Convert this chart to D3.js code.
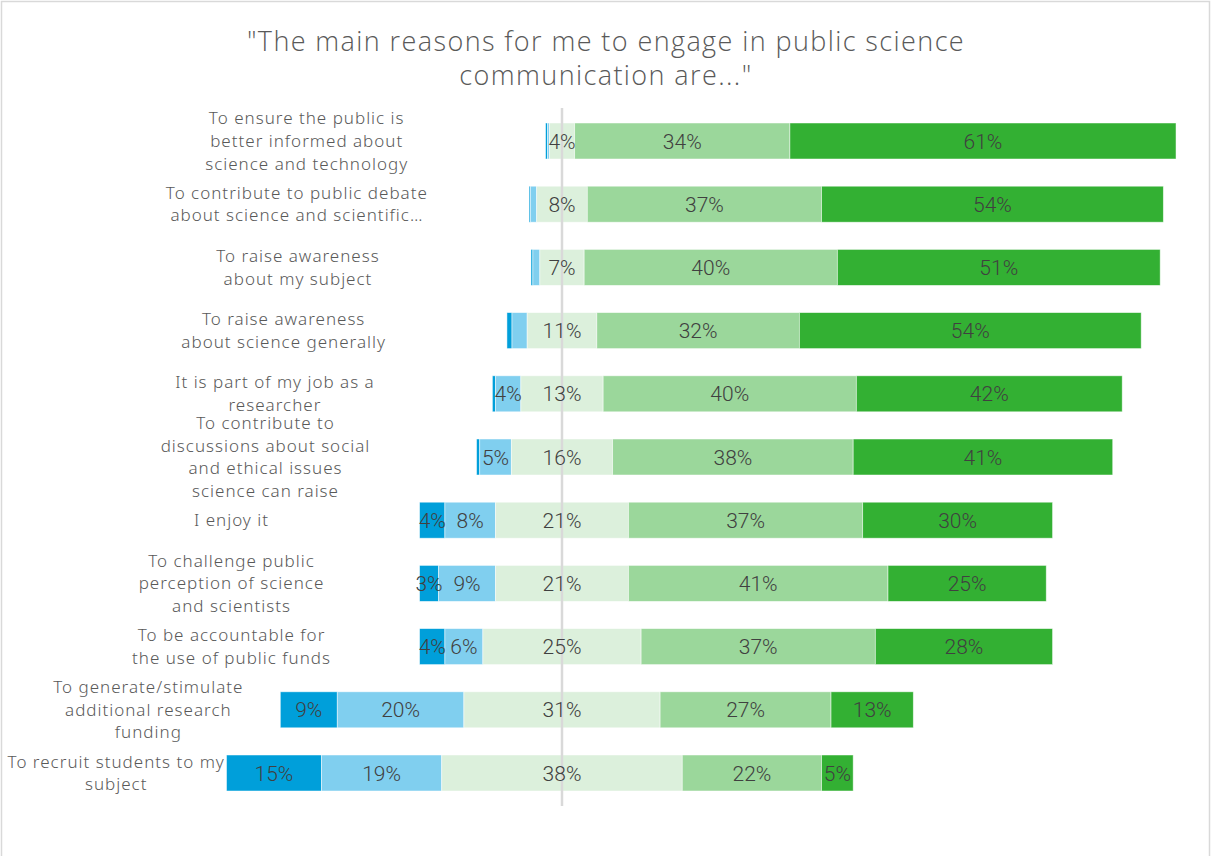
<!DOCTYPE html>
<html>
<head>
<meta charset="utf-8">
<script src="https://cdn.jsdelivr.net/npm/d3@7"></script>
<style>
  html, body { margin: 0; padding: 0; background: #fff; }
  svg { display: block; }
</style>
</head>
<body>
<svg id="chart" width="1212" height="856"></svg>
<script>
// Reasons for engaging in public science communication (share of respondents, %)
const categories = [
  "To ensure the public is\nbetter informed about\nscience and technology",
  "To contribute to public debate\nabout science and scientific…",
  "To raise awareness\nabout my subject",
  "To raise awareness\nabout science generally",
  "It is part of my job as a\nresearcher",
  "To contribute to\ndiscussions about social\nand ethical issues\nscience can raise",
  "I enjoy it",
  "To challenge public\nperception of science\nand scientists",
  "To be accountable for\nthe use of public funds",
  "To generate/stimulate\nadditional research\nfunding",
  "To recruit students to my\nsubject"
];
const stronglyDisagree = [0.3, 0.2, 0.3, 0.8, 0.5, 0.5, 4, 3, 4, 9, 15];
const disagree         = [0.3, 1, 1.1, 2.4, 4, 5, 8, 9, 6, 20, 19];
const neutral          = [4, 8, 7, 11, 13, 16, 21, 21, 25, 31, 38];
const agree            = [34, 37, 40, 32, 40, 38, 37, 41, 37, 27, 22];
const stronglyAgree    = [61, 54, 51, 54, 42, 41, 30, 25, 28, 13, 5];
const titleLines = ["\"The main reasons for me to engage in public science", "communication are...\""];

const seriesColors = ["#009fda", "#80cfef", "#dcf0dc", "#9bd79b", "#33b033"];

const svg = d3.select("#chart");
const W = 1212, H = 856;

// chart frame
svg.append("rect")
  .attr("x", 1.5).attr("y", 1.5)
  .attr("width", W - 4).attr("height", H)
  .attr("fill", "#fff").attr("stroke", "#d9d9d9").attr("stroke-width", 1.5);

// title
svg.append("g").selectAll("text")
  .data(titleLines).join("text")
  .attr("x", 606).attr("y", (d, i) => 51 + i * 34)
  .attr("text-anchor", "middle")
  .attr("font-family", "'Open Sans', sans-serif")
  .attr("font-weight", 300)
  .attr("font-size", 27)
  .attr("letter-spacing", 1.4)
  .attr("fill", "#595959")
  .text(d => d);

const x = d3.scaleLinear().domain([-55, 100]).range([562 - 55 * 6.33, 562 + 100 * 6.33]);
const y = d3.scalePoint().domain(d3.range(categories.length)).range([141, 773]);
const barH = 36;

// build stacked segments, with the neutral share centred on zero
const rows = categories.map((c, i) => {
  const vals = [stronglyDisagree[i], disagree[i], neutral[i], agree[i], stronglyAgree[i]];
  let start = -(vals[0] + vals[1] + vals[2] / 2);
  return vals.map((v, k) => {
    const seg = { row: i, k, v, x0: start, x1: start + v };
    start += v;
    return seg;
  });
});
const segs = rows.flat();

const gBars = svg.append("g");
gBars.selectAll("rect")
  .data(segs).join("rect")
  .attr("x", d => x(d.x0))
  .attr("width", d => x(d.x1) - x(d.x0))
  .attr("y", d => y(d.row) - barH / 2)
  .attr("height", barH)
  .attr("fill", d => seriesColors[d.k])
  .attr("stroke", "#fff")
  .attr("stroke-opacity", 0.6)
  .attr("stroke-width", 0.8);

// zero line
svg.append("line")
  .attr("x1", x(0)).attr("x2", x(0))
  .attr("y1", 108).attr("y2", 806)
  .attr("stroke", "#d9d9d9").attr("stroke-width", 2.5);

// value labels (slivers under 3% stay unlabelled)
svg.append("g").selectAll("text")
  .data(segs.filter(d => d.v >= 3)).join("text")
  .attr("x", d => x((d.x0 + d.x1) / 2))
  .attr("y", d => y(d.row))
  .attr("dy", "0.36em")
  .attr("text-anchor", "middle")
  .attr("font-family", "Roboto, sans-serif")
  .attr("font-weight", 300)
  .attr("font-size", 21)
  .attr("fill", "#404040")
  .text(d => d3.format(".0f")(d.v) + "%");

// category labels, centred a little to the left of each bar's start
const lineH = 22.6;
const gCats = svg.append("g");
categories.forEach((c, i) => {
  const lines = c.split("\n");
  const left = x(rows[i][0].x0);
  const cx = 0.597 * left - 19;
  const t = gCats.append("text")
    .attr("text-anchor", "middle")
    .attr("font-family", "'Noto Sans', sans-serif")
    .attr("font-weight", 300)
    .attr("font-size", 17)
    .attr("letter-spacing", 1)
    .attr("fill", "#595959");
  lines.forEach((ln, j) => {
    t.append("tspan")
      .attr("x", cx)
      .attr("y", y(i) + (j - (lines.length - 1) / 2) * lineH)
      .attr("dy", "0.35em")
      .text(ln);
  });
});
</script>
</body>
</html>
